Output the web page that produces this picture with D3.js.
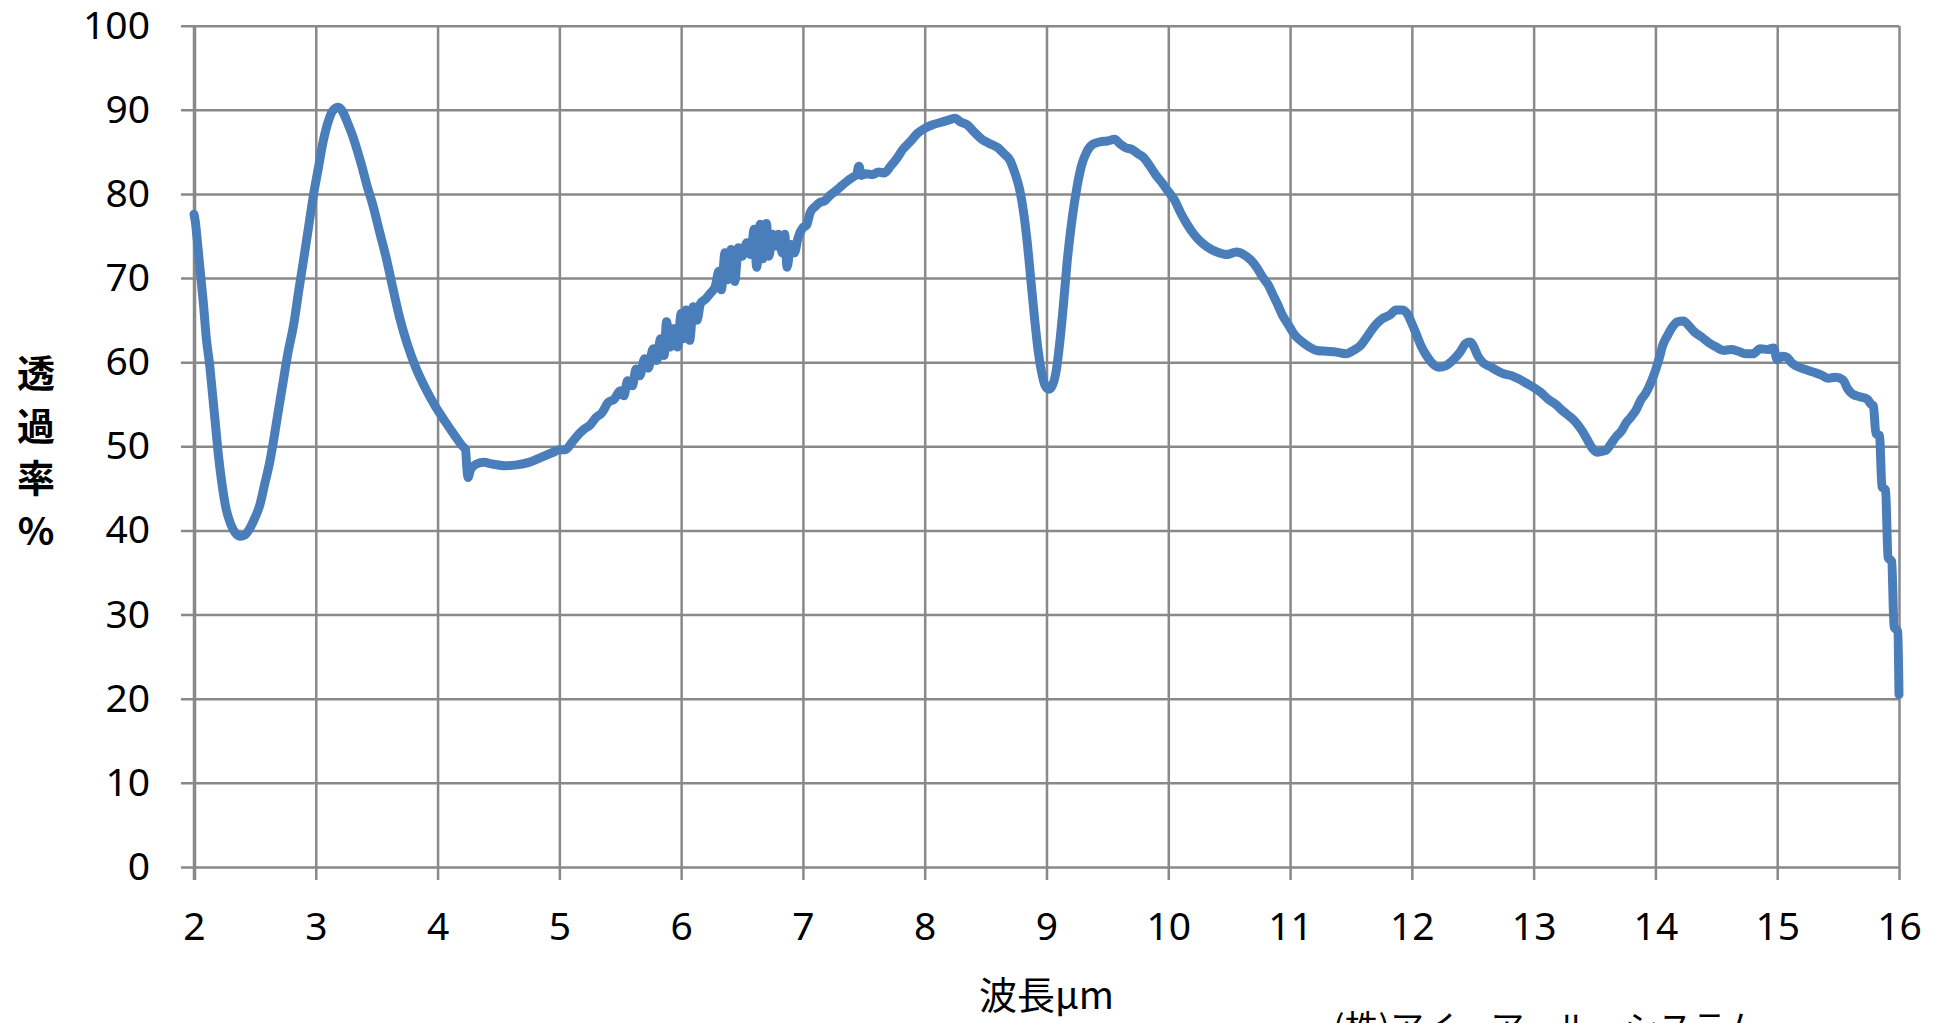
<!DOCTYPE html>
<html>
<head>
<meta charset="utf-8">
<script src="https://cdn.jsdelivr.net/npm/d3@7"></script>
<style>
  body { margin: 0; background: #fff; }
  svg { display: block; }
</style>
</head>
<body>
<div id="viz"></div>
<script>
// transmittance spectrum, values
var wavelength = [
  2.00, 2.01, 2.03, 2.05, 2.08, 2.10, 2.13, 2.15, 2.18, 2.20, 2.23, 2.26, 2.30, 2.34, 2.38, 2.42, 2.46, 2.50,
  2.54, 2.58, 2.62, 2.65, 2.69, 2.73, 2.77, 2.82, 2.86, 2.90, 2.94, 2.98, 3.02, 3.06, 3.10, 3.14, 3.185, 3.22,
  3.26, 3.30, 3.34, 3.38, 3.42, 3.47, 3.52, 3.58, 3.63, 3.69, 3.75, 3.82, 3.90, 3.98, 4.06, 4.14, 4.20, 4.23,
  4.24, 4.25, 4.27, 4.29, 4.32, 4.38, 4.45, 4.55, 4.65, 4.75, 4.85, 4.95, 5.00, 5.05, 5.10, 5.15, 5.20, 5.25,
  5.30, 5.35, 5.40, 5.45, 5.50, 5.53, 5.56, 5.60, 5.63, 5.66, 5.70, 5.73, 5.77, 5.80, 5.83, 5.86, 5.88, 5.91,
  5.94, 5.97, 6.00, 6.02, 6.04, 6.07, 6.10, 6.13, 6.16, 6.20, 6.24, 6.28, 6.31, 6.33, 6.36, 6.38, 6.41, 6.44,
  6.47, 6.50, 6.54, 6.57, 6.60, 6.62, 6.65, 6.67, 6.70, 6.72, 6.75, 6.78, 6.80, 6.83, 6.85, 6.87, 6.90, 6.93,
  6.96, 7.00, 7.03, 7.06, 7.10, 7.14, 7.18, 7.22, 7.28, 7.32, 7.37, 7.41, 7.44, 7.46, 7.48, 7.52, 7.57, 7.62,
  7.67, 7.72, 7.77, 7.82, 7.88, 7.94, 8.00, 8.06, 8.13, 8.20, 8.25, 8.29, 8.35, 8.41, 8.47, 8.53, 8.60, 8.65,
  8.70, 8.74, 8.78, 8.81, 8.84, 8.87, 8.90, 8.93, 8.96, 8.99, 9.02, 9.05, 9.08, 9.11, 9.14, 9.17, 9.21, 9.25,
  9.29, 9.33, 9.38, 9.44, 9.50, 9.56, 9.60, 9.65, 9.70, 9.75, 9.80, 9.85, 9.90, 9.95, 10.00, 10.05, 10.10, 10.15,
  10.20, 10.26, 10.32, 10.40, 10.48, 10.56, 10.62, 10.68, 10.72, 10.78, 10.82, 10.86, 10.90, 10.94, 10.98, 11.04, 11.10, 11.16,
  11.22, 11.30, 11.38, 11.46, 11.52, 11.58, 11.64, 11.70, 11.76, 11.82, 11.87, 11.92, 11.96, 12.00, 12.04, 12.08, 12.12, 12.16,
  12.22, 12.28, 12.34, 12.40, 12.44, 12.48, 12.51, 12.54, 12.58, 12.64, 12.70, 12.76, 12.82, 12.88, 12.94, 13.00, 13.06, 13.12,
  13.18, 13.24, 13.30, 13.35, 13.40, 13.44, 13.48, 13.52, 13.56, 13.60, 13.64, 13.68, 13.72, 13.76, 13.80, 13.84, 13.88, 13.92,
  13.96, 14.00, 14.03, 14.06, 14.10, 14.14, 14.18, 14.23, 14.27, 14.32, 14.38, 14.44, 14.50, 14.56, 14.62, 14.68, 14.74, 14.80,
  14.86, 14.92, 14.97, 15.00, 15.04, 15.08, 15.12, 15.18, 15.24, 15.30, 15.36, 15.42, 15.48, 15.54, 15.58, 15.62, 15.68, 15.74,
  15.77, 15.79, 15.81, 15.84, 15.86, 15.89, 15.91, 15.94, 15.96, 15.99, 16.00
];
var transmittance = [
  77.6, 76.8, 74.0, 71.0, 66.5, 63.0, 59.5, 56.5, 52.0, 49.0, 45.5, 42.8, 40.8, 39.7, 39.3, 39.5, 40.3, 41.5,
  43.0, 45.5, 48.0, 50.4, 54.0, 57.5, 61.0, 64.6, 68.5, 72.2, 76.0, 79.8, 83.0, 86.2, 88.5, 89.9, 90.3, 89.8,
  88.5, 87.0, 85.2, 83.2, 81.0, 78.6, 75.7, 72.3, 69.0, 65.2, 62.2, 59.4, 56.9, 54.8, 53.0, 51.3, 50.1, 49.6,
  47.5, 46.3, 47.2, 47.6, 47.9, 48.1, 47.9, 47.7, 47.8, 48.1, 48.7, 49.3, 49.6, 49.6, 50.4, 51.3, 52.0, 52.5,
  53.4, 54.0, 55.2, 55.6, 56.6, 56.0, 57.8, 57.2, 59.2, 58.4, 60.4, 59.3, 61.6, 60.2, 62.8, 60.8, 64.8, 61.8,
  64.0, 61.8, 65.8, 62.8, 66.2, 62.6, 66.6, 65.0, 67.0, 67.5, 68.2, 69.0, 70.8, 68.6, 73.0, 69.8, 73.4, 69.6,
  73.6, 72.6, 74.2, 72.8, 75.8, 71.3, 76.4, 72.3, 76.5, 72.6, 75.2, 73.8, 75.2, 73.0, 75.2, 71.3, 74.0, 73.0,
  74.8, 76.0, 76.3, 77.8, 78.5, 79.0, 79.2, 79.8, 80.5, 81.0, 81.6, 82.0, 82.3, 83.3, 82.2, 82.4, 82.3, 82.6,
  82.5, 83.3, 84.2, 85.3, 86.2, 87.2, 87.8, 88.2, 88.5, 88.8, 89.0, 88.6, 88.2, 87.3, 86.5, 86.0, 85.5, 84.8,
  84.0, 82.5, 80.5, 78.0, 74.5, 70.0, 65.5, 61.5, 58.8, 57.2, 56.8, 57.3, 59.0, 62.5, 67.0, 72.0, 77.0, 80.8,
  83.5, 85.0, 85.9, 86.2, 86.3, 86.5, 86.0, 85.5, 85.3, 84.8, 84.3, 83.3, 82.2, 81.3, 80.3, 79.3, 77.8, 76.5,
  75.4, 74.4, 73.7, 73.1, 72.8, 73.1, 72.8, 72.1, 71.4, 70.0, 69.2, 68.0, 66.8, 65.5, 64.6, 63.2, 62.4, 61.8,
  61.4, 61.3, 61.2, 61.0, 61.4, 62.0, 63.2, 64.4, 65.2, 65.6, 66.2, 66.2, 65.8, 64.6, 63.2, 61.8, 60.8, 60.0,
  59.4, 59.6, 60.3, 61.3, 62.2, 62.4, 61.8, 60.8, 60.0, 59.5, 59.0, 58.6, 58.4, 58.0, 57.5, 57.0, 56.4, 55.6,
  55.0, 54.2, 53.5, 52.8, 51.8, 50.8, 49.8, 49.3, 49.4, 49.6, 50.4, 51.2, 51.8, 52.8, 53.5, 54.3, 55.5, 56.3,
  57.5, 59.0, 60.4, 62.0, 63.2, 64.2, 64.8, 64.9, 64.4, 63.6, 63.0, 62.3, 61.8, 61.4, 61.5, 61.3, 61.0, 61.0,
  61.6, 61.5, 61.7, 60.3, 60.7, 60.6, 59.9, 59.4, 59.1, 58.8, 58.5, 58.1, 58.2, 57.9, 56.8, 56.2, 55.9, 55.6,
  55.0, 54.8, 51.5, 51.3, 45.2, 44.8, 36.8, 36.3, 28.5, 28.0, 20.5
];

var xTicks = [2, 3, 4, 5, 6, 7, 8, 9, 10, 11, 12, 13, 14, 15, 16];
var yTicks = [0, 10, 20, 30, 40, 50, 60, 70, 80, 90, 100];

var yLabelChars = ["透", "過", "率", "%"];
var xTitle = "波長μm";
var company = "(株)アイ・アール・システム";

var chartW = 1946, chartH = 1023;
var plotLeft = 194, plotRight = 1899, plotTop = 25.7, plotBottom = 867;
var gridColor = "#898989";
var numFont = "'Noto Sans', 'DejaVu Sans', sans-serif";
var cjkFont = "'Noto Sans CJK JP', 'Noto Sans', sans-serif";

var svg = d3.select("#viz").append("svg")
  .attr("width", chartW)
  .attr("height", chartH)
  .style("background", "#fff");

var x = d3.scaleLinear().domain([2, 16]).range([plotLeft, plotRight]);
var y = d3.scaleLinear().domain([0, 100]).range([plotBottom, plotTop]);

// horizontal gridlines + y tick labels
var yAxis = svg.append("g")
  .attr("transform", "translate(" + plotLeft + ",0)")
  .call(d3.axisLeft(y).tickValues(yTicks).tickSize(13).tickPadding(31));
yAxis.select(".domain").remove();
yAxis.selectAll(".tick line")
  .attr("x1", plotRight - plotLeft)
  .attr("stroke", gridColor)
  .attr("stroke-width", 2.5);
yAxis.selectAll(".tick text")
  .attr("fill", "#000")
  .style("font-family", numFont)
  .style("font-size", "39px");

// vertical gridlines + x tick labels
var xAxis = svg.append("g")
  .attr("transform", "translate(0," + plotBottom + ")")
  .call(d3.axisBottom(x).tickValues(xTicks).tickSize(13));
xAxis.select(".domain").remove();
xAxis.selectAll(".tick line")
  .attr("y1", plotTop - plotBottom)
  .attr("stroke", gridColor)
  .attr("stroke-width", function (d) { return d === 2 ? 3.5 : 2.5; });
xAxis.selectAll(".tick text")
  .attr("fill", "#000")
  .attr("y", 73)
  .attr("dy", 0)
  .style("font-family", numFont)
  .style("font-size", "39px");

// the spectrum
var points = wavelength.map(function (w, i) { return [w, transmittance[i]]; });
var line = d3.line()
  .x(function (d) { return x(d[0]); })
  .y(function (d) { return y(d[1]); })
  .curve(d3.curveMonotoneX);

svg.append("path")
  .datum(points)
  .attr("d", line)
  .attr("fill", "none")
  .attr("stroke", "#4a7ebb")
  .attr("stroke-width", 9)
  .attr("stroke-linejoin", "round")
  .attr("stroke-linecap", "round");

// y axis title, stacked vertically
svg.append("g").selectAll("text")
  .data(yLabelChars)
  .enter()
  .append("text")
  .attr("x", 36)
  .attr("y", function (d, i) { return 387 + i * 52.5; })
  .attr("text-anchor", "middle")
  .style("font-family", cjkFont)
  .style("font-weight", "bold")
  .style("font-size", "38px")
  .text(function (d) { return d; });

svg.append("text")
  .attr("x", (plotLeft + plotRight) / 2)
  .attr("y", 1009)
  .attr("text-anchor", "middle")
  .style("font-family", cjkFont)
  .style("font-size", "38px")
  .text(xTitle);

// company name, mostly cut off by the bottom edge
svg.append("text")
  .attr("x", 1333)
  .attr("y", 1040)
  .style("font-family", cjkFont)
  .style("font-size", "34px")
  .text(company);
</script>
</body>
</html>
